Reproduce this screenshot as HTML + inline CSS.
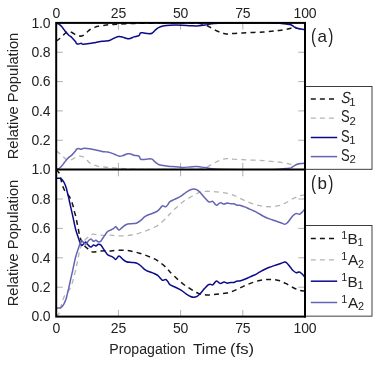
<!DOCTYPE html>
<html><head><meta charset="utf-8"><title>Relative Population</title>
<style>
html,body{margin:0;padding:0;background:#fff;}
body{width:374px;height:365px;overflow:hidden;}
svg{display:block;will-change:transform;}
text{font-family:"Liberation Sans",sans-serif;fill:#222222;}
.tk{font-size:14px;letter-spacing:-0.15px;}
.lb{font-size:14.7px;}
.pl{font-size:17px;}
.lg{font-size:15.3px;}
.sb{font-size:10.8px;}
</style></head><body>
<svg width="374" height="365" viewBox="0 0 374 365">
<rect x="0" y="0" width="374" height="365" fill="#ffffff"/>
<g stroke="#b0b0b0" stroke-width="1" fill="none">
<path d="M118.40,22.9v6.7M118.40,162.9v13.4M118.40,316.6v-6.7"/>
<path d="M180.60,22.9v6.7M180.60,162.9v13.4M180.60,316.6v-6.7"/>
<path d="M242.80,22.9v6.7M242.80,162.9v13.4M242.80,316.6v-6.7"/>
<path d="M56.2,140.26h6.7M305.0,140.26h-6.7"/>
<path d="M56.2,110.92h6.7M305.0,110.92h-6.7"/>
<path d="M56.2,81.58h6.7M305.0,81.58h-6.7"/>
<path d="M56.2,52.24h6.7M305.0,52.24h-6.7"/>
<path d="M56.2,287.20h6.7M305.0,287.20h-6.7"/>
<path d="M56.2,257.80h6.7M305.0,257.80h-6.7"/>
<path d="M56.2,228.40h6.7M305.0,228.40h-6.7"/>
<path d="M56.2,199.00h6.7M305.0,199.00h-6.7"/>
</g>
<defs><clipPath id="ca"><rect x="56.2" y="22.9" width="248.8" height="146.7"/></clipPath><clipPath id="cb"><rect x="56.2" y="169.6" width="248.8" height="147.00000000000003"/></clipPath></defs>
<g fill="none" stroke-linejoin="round" clip-path="url(#ca)">
<path d="M56.0,40.8C56.2,40.8 56.5,41.0 57.2,40.5C57.9,40.0 59.4,38.9 60.4,38.0C61.4,37.1 62.6,35.9 63.5,35.0C64.4,34.1 65.2,33.2 66.0,32.6C66.8,32.0 67.5,31.5 68.5,31.5C69.5,31.5 70.8,31.9 72.0,32.5C73.2,33.1 74.7,34.4 76.0,35.0C77.3,35.6 78.5,36.0 79.7,36.1C80.9,36.2 82.0,36.0 83.0,35.5C84.0,35.0 85.1,34.0 86.0,33.2C86.9,32.4 87.7,31.5 88.5,30.8C89.3,30.1 90.1,29.3 91.0,28.8C91.9,28.3 92.9,28.0 94.1,27.6C95.3,27.2 96.4,26.6 98.0,26.3C99.6,25.9 102.0,25.6 103.7,25.4C105.5,25.2 106.8,25.0 108.5,24.8C110.2,24.7 112.1,24.5 114.0,24.4C115.9,24.3 117.3,24.1 120.0,24.0C122.7,23.9 126.7,23.7 130.0,23.6C133.3,23.5 135.0,23.4 140.0,23.3C145.0,23.2 156.7,23.1 160.0,23.1" stroke="#141414" stroke-width="1.5" stroke-dasharray="5 4.1"/>
<path d="M160.0,23.1C165.0,23.1 183.7,23.1 190.0,23.1C196.3,23.1 195.8,23.1 198.0,23.3C200.2,23.5 201.4,23.9 203.0,24.3C204.6,24.8 206.4,25.4 207.7,26.0C209.0,26.6 209.9,27.2 211.0,27.8C212.1,28.4 213.0,28.9 214.1,29.5C215.2,30.1 216.4,30.7 217.5,31.2C218.6,31.7 219.6,32.0 220.5,32.4C221.4,32.8 222.1,33.0 223.0,33.3C223.9,33.5 225.0,33.8 226.0,33.9C227.0,34.0 227.8,33.9 229.0,33.8C230.2,33.7 230.9,33.6 233.2,33.5C235.5,33.4 239.4,33.1 242.9,32.9C246.4,32.7 250.6,32.5 254.1,32.4C257.6,32.2 260.8,32.2 263.7,32.0C266.6,31.8 269.2,31.4 271.6,31.2C274.0,31.0 276.1,30.8 278.0,30.6C279.9,30.4 281.2,30.3 282.9,30.0C284.6,29.7 286.5,29.3 288.0,29.0C289.5,28.7 290.5,28.2 291.7,28.0C292.9,27.8 293.9,27.7 295.0,27.8C296.1,27.9 296.8,28.3 298.0,28.5C299.2,28.7 300.8,29.0 302.0,29.2C303.2,29.4 304.5,29.5 305.0,29.6" stroke="#141414" stroke-width="1.5" stroke-dasharray="5 4.1" stroke-dashoffset="-1.6"/>
<path d="M56.0,151.3C56.2,151.3 56.5,151.1 57.2,151.6C57.9,152.1 59.4,153.2 60.4,154.1C61.4,155.0 62.6,156.2 63.5,157.0C64.4,157.9 65.2,158.9 66.0,159.4C66.8,160.0 67.5,160.5 68.5,160.5C69.5,160.5 70.8,160.1 72.0,159.5C73.2,159.0 74.7,157.7 76.0,157.1C77.3,156.5 78.5,156.2 79.7,156.1C80.9,156.0 82.0,156.2 83.0,156.8C84.0,157.3 85.1,158.3 86.0,159.2C86.9,160.0 87.7,161.0 88.5,161.8C89.3,162.6 90.1,163.3 91.0,163.8C91.9,164.3 92.9,164.6 94.1,165.0C95.3,165.4 96.4,165.9 98.0,166.3C99.6,166.6 102.0,166.8 103.7,167.0C105.5,167.2 106.8,167.3 108.5,167.5C110.2,167.6 112.1,167.7 114.0,167.9C115.9,168.1 117.3,168.2 120.0,168.4C122.7,168.6 126.7,168.8 130.0,169.0C133.3,169.2 135.0,169.2 140.0,169.3C145.0,169.4 156.7,169.5 160.0,169.5" stroke="#b4b4b4" stroke-width="1.3" stroke-dasharray="5 4.1"/>
<path d="M160.0,169.5C165.0,169.5 183.7,169.5 190.0,169.5C196.3,169.5 195.8,169.5 198.0,169.3C200.2,169.1 201.4,168.7 203.0,168.3C204.6,167.8 206.4,167.2 207.7,166.6C209.0,166.0 209.9,165.4 211.0,164.8C212.1,164.2 213.0,163.7 214.1,163.1C215.2,162.5 216.4,161.9 217.5,161.4C218.6,160.9 219.6,160.5 220.5,160.2C221.4,159.8 222.1,159.6 223.0,159.3C223.9,159.1 225.0,158.8 226.0,158.7C227.0,158.6 227.8,158.7 229.0,158.8C230.2,158.9 230.9,158.9 233.2,159.1C235.5,159.2 239.4,159.5 242.9,159.7C246.4,159.9 250.6,160.0 254.1,160.2C257.6,160.3 260.8,160.4 263.7,160.6C266.6,160.8 269.2,161.2 271.6,161.4C274.0,161.6 276.1,161.8 278.0,162.0C279.9,162.2 281.2,162.3 282.9,162.6C284.6,162.9 286.5,163.3 288.0,163.6C289.5,163.9 290.5,164.4 291.7,164.6C292.9,164.8 293.9,164.9 295.0,164.8C296.1,164.7 296.8,164.3 298.0,164.1C299.2,163.9 300.8,163.6 302.0,163.4C303.2,163.2 304.5,163.1 305.0,163.0" stroke="#b4b4b4" stroke-width="1.3" stroke-dasharray="5 4.1" stroke-dashoffset="-1.6"/>
<path d="M56.0,23.0C56.1,23.1 56.3,23.0 56.9,23.3C57.5,23.6 58.7,23.9 59.6,24.6C60.5,25.3 61.6,26.4 62.4,27.4C63.2,28.3 63.9,29.5 64.5,30.3C65.1,31.1 65.3,31.4 66.0,32.2C66.7,33.0 67.8,34.3 68.8,35.2C69.8,36.1 70.9,36.6 72.0,37.7C73.1,38.8 74.9,40.9 75.6,41.8C76.3,42.7 75.8,42.9 76.3,43.3C76.8,43.7 77.9,44.0 78.7,44.0C79.5,44.0 80.4,43.3 81.2,43.3C81.9,43.3 81.7,44.1 83.0,44.2C84.3,44.3 87.1,43.9 89.2,43.6C91.3,43.3 93.6,42.8 95.7,42.4C97.8,42.0 100.5,41.4 102.1,41.2C103.7,41.0 103.9,41.3 105.3,41.1C106.7,40.9 108.7,40.7 110.2,40.2C111.7,39.7 113.1,38.6 114.5,38.0C115.9,37.4 117.4,36.6 118.8,36.5C120.2,36.4 121.5,36.8 122.8,37.1C124.1,37.5 125.6,38.3 126.8,38.5C128.0,38.7 128.8,38.8 130.0,38.5C131.2,38.2 132.5,37.4 134.0,36.9C135.5,36.4 137.8,36.3 138.9,35.6C140.0,34.9 139.7,33.4 140.5,32.9C141.3,32.4 142.5,32.8 143.7,32.9C144.9,33.0 146.3,33.5 147.7,33.6C149.1,33.7 150.8,33.7 152.0,33.2C153.2,32.7 153.9,31.4 154.9,30.5C155.9,29.6 156.8,28.6 158.1,27.9C159.4,27.1 160.9,26.4 162.9,26.0C164.9,25.6 166.8,25.3 170.0,25.2C173.2,25.1 178.7,25.1 182.0,25.2C185.3,25.3 187.6,25.6 190.0,25.7C192.4,25.8 194.0,26.1 196.5,26.0C199.0,25.9 202.1,25.4 205.0,25.0C207.9,24.6 210.7,23.8 214.0,23.5C217.3,23.2 219.0,23.1 225.0,23.0C231.0,22.9 242.2,22.9 250.0,22.9C257.8,22.9 266.8,22.8 272.0,22.9C277.2,23.0 279.0,23.3 281.3,23.5C283.6,23.7 284.4,23.8 286.0,24.0C287.6,24.2 289.5,24.2 290.9,24.7C292.2,25.2 293.0,26.2 294.1,26.8C295.2,27.4 296.0,28.0 297.3,28.4C298.6,28.8 300.8,29.0 302.1,29.2C303.4,29.4 304.5,29.5 305.0,29.6" stroke="#0b0b8a" stroke-width="1.5"/>
<path d="M56.0,169.6C56.1,169.5 56.3,169.6 56.9,169.3C57.5,169.0 58.7,168.7 59.6,168.0C60.5,167.3 61.6,166.1 62.4,165.2C63.2,164.2 63.9,163.1 64.5,162.3C65.1,161.5 65.3,161.2 66.0,160.4C66.7,159.6 67.8,158.3 68.8,157.4C69.8,156.5 70.9,156.0 72.0,154.9C73.1,153.8 74.9,151.7 75.6,150.8C76.3,149.9 75.8,149.7 76.3,149.3C76.8,148.9 77.9,148.6 78.7,148.6C79.5,148.6 80.4,149.3 81.2,149.3C81.9,149.3 81.7,148.5 83.0,148.4C84.4,148.3 87.2,148.5 89.3,148.8C91.4,149.1 93.6,149.7 95.7,150.1C97.8,150.6 100.5,151.2 102.1,151.5C103.7,151.8 103.9,151.6 105.3,151.8C106.7,151.9 108.7,152.2 110.2,152.6C111.7,153.0 113.1,153.7 114.5,154.3C115.9,154.9 117.4,155.9 118.8,156.1C120.2,156.3 121.5,156.0 122.8,155.6C124.1,155.3 125.6,154.2 126.8,153.9C128.0,153.6 128.8,153.5 130.0,153.8C131.2,154.0 132.5,154.8 134.0,155.2C135.5,155.6 137.8,155.6 138.9,156.2C140.0,156.9 139.7,158.6 140.5,159.1C141.3,159.7 142.5,159.5 143.7,159.4C144.9,159.4 146.3,159.0 147.7,159.0C149.1,158.9 150.8,158.6 152.0,159.1C153.2,159.6 153.9,160.9 154.9,161.7C155.9,162.6 156.8,163.5 158.1,164.2C159.4,164.8 160.9,165.2 162.9,165.6C164.9,166.0 166.8,166.1 170.0,166.4C173.2,166.7 178.7,167.3 182.0,167.4C185.3,167.5 187.6,167.0 190.0,166.9C192.4,166.8 194.0,166.5 196.5,166.6C199.0,166.7 202.1,167.2 205.0,167.6C207.9,168.0 210.7,168.8 214.0,169.1C217.3,169.4 219.0,169.5 225.0,169.6C231.0,169.7 242.2,169.7 250.0,169.7C257.8,169.7 266.8,169.8 272.0,169.7C277.2,169.6 279.0,169.3 281.3,169.1C283.6,168.9 284.4,168.8 286.0,168.6C287.6,168.4 289.5,168.4 290.9,167.9C292.2,167.4 293.0,166.4 294.1,165.8C295.2,165.2 296.0,164.6 297.3,164.2C298.6,163.8 300.8,163.6 302.1,163.4C303.4,163.2 304.5,163.1 305.0,163.0" stroke="#6464b4" stroke-width="1.5"/>
</g>
<g fill="none" stroke-linejoin="round" clip-path="url(#cb)">
<path d="M56.2,169.6C56.7,170.2 58.7,172.2 59.4,173.4C60.1,174.6 60.1,175.8 60.4,177.0C60.7,178.2 60.9,179.2 61.2,180.5C61.5,181.8 61.9,183.3 62.3,184.5C62.7,185.7 62.9,186.7 63.4,187.8C63.9,188.9 64.4,190.2 65.0,191.2C65.6,192.2 66.7,193.4 67.0,193.8" stroke="#141414" stroke-width="1.5" stroke-dasharray="5 4.1"/><path d="M67.0,193.8C67.3,194.2 68.4,195.2 69.0,196.0C69.6,196.8 70.0,197.7 70.5,198.8C71.0,200.0 71.6,201.5 72.1,202.9C72.6,204.3 73.0,205.5 73.4,207.0C73.8,208.5 74.1,210.4 74.5,211.9C74.9,213.4 75.3,214.5 75.7,216.0C76.1,217.5 76.4,219.5 76.7,221.0C77.0,222.5 77.2,223.5 77.5,225.1C77.8,226.7 78.3,228.8 78.6,230.5C78.9,232.2 79.1,233.4 79.5,235.0C79.9,236.6 80.2,238.2 80.9,239.8C81.6,241.4 82.5,243.1 83.6,244.6C84.7,246.1 86.2,247.5 87.7,248.7C89.2,249.9 90.8,251.6 92.6,252.0C94.4,252.4 96.3,251.4 98.4,251.2C100.5,251.0 103.1,250.8 105.0,250.8C106.9,250.8 108.1,251.1 110.0,251.0C111.9,250.9 114.1,250.5 116.6,250.4C119.1,250.3 122.3,250.3 124.8,250.4C127.3,250.5 128.9,250.7 131.4,251.2C133.9,251.7 136.9,252.4 139.6,253.2C142.3,254.0 145.1,255.0 147.8,256.1C150.5,257.2 153.5,258.3 156.0,259.7C158.5,261.1 160.7,262.8 162.6,264.4C164.5,265.9 166.3,267.8 167.5,269.1C168.7,270.4 168.5,270.5 170.0,272.0C171.5,273.5 174.3,276.3 176.5,278.3C178.7,280.3 180.9,282.3 183.1,284.0C185.3,285.7 187.6,287.1 189.7,288.4C191.8,289.8 193.6,291.0 195.4,291.9C197.2,292.8 198.5,293.6 200.3,294.1C202.1,294.6 204.0,294.8 206.1,294.9C208.2,295.0 210.5,294.9 212.7,294.7C214.9,294.5 217.2,294.2 219.5,293.9C221.8,293.6 224.3,293.6 226.6,293.1C228.9,292.6 231.0,291.9 233.2,291.1C235.4,290.3 237.5,289.1 239.7,288.1C241.9,287.1 244.1,285.9 246.3,285.0C248.5,284.1 250.7,283.1 252.9,282.4C255.1,281.6 257.5,281.0 259.7,280.5C261.9,280.0 264.1,279.8 266.3,279.6C268.5,279.5 270.8,279.4 273.0,279.6C275.2,279.8 277.6,280.1 279.8,280.8C282.0,281.5 284.1,282.6 286.3,283.7C288.5,284.8 290.7,286.4 292.9,287.5C295.1,288.6 297.5,289.7 299.5,290.3C301.5,290.9 304.1,291.1 305.0,291.3" stroke="#141414" stroke-width="1.5" stroke-dasharray="5 4.1" stroke-dashoffset="-0.9"/>
<path d="M56.2,316.6C56.7,316.0 58.7,314.0 59.4,312.8C60.1,311.6 60.1,310.4 60.4,309.2C60.7,308.0 60.9,307.0 61.2,305.7C61.5,304.5 61.9,302.9 62.3,301.7C62.7,300.5 62.9,299.5 63.4,298.4C63.9,297.3 64.4,296.0 65.0,295.0C65.6,294.0 66.7,292.8 67.0,292.4" stroke="#b4b4b4" stroke-width="1.3" stroke-dasharray="5 4.1"/><path d="M67.0,292.4C67.3,292.0 68.4,291.0 69.0,290.2C69.6,289.4 70.0,288.6 70.5,287.4C71.0,286.3 71.6,284.7 72.1,283.3C72.6,281.9 73.0,280.7 73.4,279.2C73.8,277.7 74.1,275.8 74.5,274.3C74.9,272.8 75.3,271.7 75.7,270.2C76.1,268.7 76.4,266.7 76.7,265.2C77.0,263.7 77.2,262.7 77.5,261.1C77.8,259.5 78.3,257.4 78.6,255.7C78.9,254.1 79.1,252.8 79.5,251.2C79.9,249.7 80.2,248.0 80.9,246.4C81.6,244.8 82.5,243.1 83.6,241.6C84.7,240.1 86.2,238.7 87.7,237.5C89.2,236.3 90.8,234.6 92.6,234.2C94.4,233.8 96.3,234.8 98.4,235.0C100.5,235.2 103.1,235.4 105.0,235.4C106.9,235.4 108.1,235.1 110.0,235.2C111.9,235.3 114.1,235.7 116.6,235.8C119.1,235.9 122.3,235.9 124.8,235.8C127.3,235.7 128.9,235.5 131.4,235.0C133.9,234.5 136.9,233.8 139.6,233.0C142.3,232.2 145.1,231.2 147.8,230.1C150.5,229.0 153.5,227.9 156.0,226.5C158.5,225.1 160.7,223.2 162.6,221.5C164.5,219.9 166.3,217.9 167.5,216.6C168.7,215.3 168.5,215.2 170.0,213.7C171.5,212.2 174.3,209.4 176.5,207.4C178.7,205.4 180.9,203.3 183.1,201.7C185.3,200.1 187.6,198.8 189.7,197.6C191.8,196.4 193.6,195.2 195.4,194.3C197.2,193.4 198.5,192.6 200.3,192.1C202.1,191.6 204.0,191.4 206.1,191.3C208.2,191.2 210.5,191.3 212.7,191.5C214.9,191.7 217.2,192.0 219.5,192.3C221.8,192.6 224.3,192.6 226.6,193.1C228.9,193.6 231.0,194.3 233.2,195.1C235.4,195.9 237.5,197.1 239.7,198.1C241.9,199.1 244.1,200.3 246.3,201.2C248.5,202.2 250.7,203.1 252.9,203.8C255.1,204.6 257.5,205.2 259.7,205.7C261.9,206.2 264.1,206.5 266.3,206.6C268.5,206.8 270.8,206.8 273.0,206.6C275.2,206.4 277.6,206.1 279.8,205.4C282.0,204.7 284.1,203.6 286.3,202.5C288.5,201.4 290.7,199.8 292.9,198.7C295.1,197.6 297.5,196.5 299.5,195.9C301.5,195.3 304.1,195.1 305.0,194.9" stroke="#b4b4b4" stroke-width="1.3" stroke-dasharray="5 4.1" stroke-dashoffset="-0.9"/>
<path d="M56.0,178.2C56.2,178.2 56.8,178.2 57.3,178.2C57.8,178.2 58.5,178.2 59.0,178.2C59.5,178.2 59.8,178.2 60.2,178.4C60.6,178.6 61.1,178.8 61.5,179.2C61.9,179.5 62.3,180.0 62.7,180.5C63.1,181.0 63.6,181.7 64.0,182.4C64.4,183.1 64.7,183.9 65.1,184.8C65.5,185.7 65.8,186.6 66.2,187.8C66.6,189.0 66.8,190.2 67.2,191.8C67.6,193.4 68.0,194.9 68.6,197.3C69.1,199.7 69.9,203.5 70.5,206.2C71.1,208.9 71.7,211.1 72.2,213.6C72.8,216.1 73.2,218.3 73.8,221.0C74.4,223.7 74.9,226.5 75.7,229.5C76.5,232.5 77.9,236.5 78.7,238.8C79.5,241.1 79.8,242.2 80.3,243.3C80.8,244.4 81.2,245.5 81.9,245.4C82.6,245.3 83.7,243.5 84.4,242.9C85.1,242.3 85.3,241.7 86.0,242.1C86.7,242.5 87.7,244.6 88.5,245.4C89.3,246.2 90.2,247.2 91.0,247.1C91.8,247.0 92.7,245.1 93.5,244.9C94.3,244.7 95.1,246.0 95.9,245.9C96.7,245.8 97.6,244.4 98.4,244.3C99.2,244.2 100.1,244.4 100.9,245.1C101.7,245.8 102.2,247.1 103.3,248.7C104.4,250.3 106.3,253.3 107.4,254.5C108.5,255.7 109.0,255.3 110.0,255.8C111.0,256.3 112.5,257.0 113.5,257.6C114.5,258.2 114.9,259.6 115.8,259.4C116.7,259.1 117.9,256.2 119.0,256.1C120.1,256.0 121.1,258.0 122.3,258.9C123.5,259.8 124.9,261.1 126.4,261.7C127.9,262.3 129.8,262.3 131.4,262.5C133.1,262.7 134.8,262.5 136.3,263.0C137.8,263.5 139.0,264.4 140.4,265.5C141.8,266.6 143.3,268.4 144.5,269.3C145.7,270.2 146.4,270.6 147.8,271.2C149.2,271.8 151.0,272.2 152.7,272.9C154.3,273.6 156.2,274.1 157.7,275.3C159.2,276.5 160.9,279.0 161.8,279.8C162.8,280.6 162.7,280.4 163.4,280.3C164.1,280.2 165.1,279.2 165.9,279.5C166.7,279.8 167.3,280.9 168.0,281.8C168.7,282.7 168.8,283.7 170.0,284.6C171.2,285.5 173.0,286.1 174.9,287.0C176.8,287.9 179.5,289.1 181.4,290.3C183.3,291.5 184.9,293.1 186.4,294.1C187.9,295.1 189.3,296.0 190.5,296.5C191.7,297.0 192.7,297.3 193.8,297.3C194.9,297.3 196.0,297.0 197.1,296.4C198.2,295.8 199.1,294.9 200.3,293.6C201.5,292.3 203.2,290.1 204.5,288.6C205.8,287.2 207.2,285.6 208.1,284.9C209.0,284.2 209.4,284.2 210.2,284.2C211.0,284.2 211.9,285.2 212.7,284.9C213.5,284.5 214.4,282.8 215.1,282.1C215.8,281.4 216.1,280.8 216.8,280.9C217.5,281.0 218.5,282.5 219.2,282.9C219.9,283.3 220.1,283.5 220.9,283.4C221.7,283.3 223.0,282.1 224.1,282.1C225.2,282.1 226.3,283.1 227.4,283.2C228.5,283.2 229.6,282.5 230.7,282.4C231.8,282.3 233.1,282.6 234.0,282.4C234.9,282.2 235.5,281.4 236.4,281.2C237.3,280.9 238.3,281.2 239.7,280.9C241.1,280.6 243.0,279.9 244.7,279.3C246.3,278.7 248.0,277.8 249.6,277.1C251.2,276.4 252.8,275.8 254.5,275.0C256.1,274.2 257.9,273.1 259.5,272.2C261.1,271.3 262.7,270.3 264.4,269.5C266.1,268.7 267.7,268.0 269.5,267.3C271.3,266.6 273.0,266.1 275.0,265.4C277.0,264.7 279.8,263.8 281.4,263.2C283.0,262.6 283.8,262.0 284.7,262.0C285.6,262.0 286.2,262.3 287.1,263.2C288.1,264.1 289.4,266.1 290.4,267.3C291.4,268.5 291.9,269.6 292.9,270.5C293.9,271.4 295.1,272.5 296.2,272.7C297.3,272.9 298.6,271.7 299.5,271.9C300.4,272.1 301.1,273.1 301.9,273.8C302.7,274.5 303.6,275.7 304.1,276.3C304.6,276.9 304.9,277.3 305.0,277.5" stroke="#0b0b8a" stroke-width="1.5"/>
<path d="M56.0,308.0C56.2,308.0 56.8,308.0 57.3,308.0C57.8,308.0 58.5,308.0 59.0,308.0C59.5,308.0 59.8,308.0 60.2,307.8C60.6,307.6 61.1,307.4 61.5,307.0C61.9,306.7 62.3,306.2 62.7,305.7C63.1,305.2 63.6,304.5 64.0,303.8C64.4,303.1 64.7,302.3 65.1,301.4C65.5,300.5 65.8,299.6 66.2,298.4C66.6,297.2 66.8,296.0 67.2,294.4C67.6,292.8 68.0,291.3 68.6,288.9C69.1,286.5 69.9,282.7 70.5,280.0C71.1,277.3 71.7,275.1 72.2,272.6C72.8,270.1 73.2,267.9 73.8,265.2C74.4,262.6 74.9,259.7 75.7,256.7C76.5,253.7 77.9,249.7 78.7,247.4C79.5,245.1 79.8,244.0 80.3,242.9C80.8,241.8 81.2,240.7 81.9,240.8C82.6,240.9 83.7,242.8 84.4,243.3C85.1,243.9 85.3,244.5 86.0,244.1C86.7,243.7 87.7,241.6 88.5,240.8C89.3,240.0 90.2,239.0 91.0,239.1C91.8,239.2 92.7,241.1 93.5,241.3C94.3,241.5 95.1,240.2 95.9,240.3C96.7,240.4 97.6,241.8 98.4,241.9C99.2,242.0 100.1,241.8 100.9,241.1C101.7,240.4 102.2,239.1 103.3,237.5C104.4,235.9 106.3,232.9 107.4,231.7C108.5,230.5 109.0,230.9 110.0,230.4C111.0,229.9 112.5,229.2 113.5,228.6C114.5,228.0 114.9,226.6 115.8,226.8C116.7,227.1 117.9,230.0 119.0,230.1C120.1,230.2 121.1,228.2 122.3,227.3C123.5,226.4 124.9,225.1 126.4,224.5C127.9,223.9 129.8,223.9 131.4,223.7C133.1,223.5 134.8,223.7 136.3,223.2C137.8,222.7 139.0,221.8 140.4,220.7C141.8,219.7 143.3,217.9 144.5,216.9C145.7,216.0 146.4,215.6 147.8,215.0C149.2,214.4 151.0,214.0 152.7,213.3C154.3,212.6 156.2,212.1 157.7,210.9C159.2,209.8 160.9,207.2 161.8,206.4C162.8,205.6 162.7,205.9 163.4,205.9C164.1,206.0 165.1,207.0 165.9,206.7C166.7,206.5 167.3,205.3 168.0,204.4C168.7,203.6 168.8,202.5 170.0,201.6C171.2,200.7 173.0,200.2 174.9,199.2C176.8,198.3 179.5,197.1 181.4,195.9C183.3,194.7 184.9,193.1 186.4,192.1C187.9,191.1 189.3,190.2 190.5,189.7C191.7,189.2 192.7,188.9 193.8,188.9C194.9,188.9 196.0,189.2 197.1,189.8C198.2,190.4 199.1,191.3 200.3,192.6C201.5,193.9 203.2,196.2 204.5,197.6C205.8,199.1 207.2,200.6 208.1,201.3C209.0,202.0 209.4,202.0 210.2,202.0C211.0,202.0 211.9,201.0 212.7,201.3C213.5,201.7 214.4,203.4 215.1,204.1C215.8,204.8 216.1,205.4 216.8,205.3C217.5,205.2 218.5,203.7 219.2,203.3C219.9,202.9 220.1,202.7 220.9,202.8C221.7,202.9 223.0,204.1 224.1,204.1C225.2,204.1 226.3,203.1 227.4,203.0C228.5,203.0 229.6,203.7 230.7,203.8C231.8,203.9 233.1,203.6 234.0,203.8C234.9,204.0 235.5,204.8 236.4,205.0C237.3,205.3 238.3,205.0 239.7,205.3C241.1,205.6 243.0,206.3 244.7,206.9C246.3,207.5 248.0,208.4 249.6,209.1C251.2,209.8 252.8,210.4 254.5,211.2C256.1,212.0 257.9,213.1 259.5,214.0C261.1,214.9 262.7,215.9 264.4,216.7C266.1,217.5 267.7,218.2 269.5,218.9C271.3,219.6 273.0,220.1 275.0,220.8C277.0,221.5 279.8,222.4 281.4,223.0C283.0,223.6 283.8,224.2 284.7,224.2C285.6,224.2 286.2,223.9 287.1,223.0C288.1,222.1 289.4,220.1 290.4,218.9C291.4,217.7 291.9,216.6 292.9,215.7C293.9,214.8 295.1,213.7 296.2,213.5C297.3,213.3 298.6,214.5 299.5,214.3C300.4,214.1 301.1,213.1 301.9,212.4C302.7,211.7 303.6,210.5 304.1,209.9C304.6,209.3 304.9,208.9 305.0,208.7" stroke="#6464b4" stroke-width="1.5"/>
</g>
<g stroke="#000" stroke-width="2" fill="none" stroke-linejoin="miter">
<rect x="56.2" y="22.9" width="248.8" height="293.70000000000005"/>
<path d="M56.2,169.6H305.0"/>
</g>
<rect x="305.5" y="86.5" width="66.5" height="82.80000000000001" fill="#fff" stroke="#2a2a2a" stroke-width="0.9"/>
<path d="M310.8,99H337.2" stroke="#141414" stroke-width="1.5" stroke-dasharray="5 4.1" fill="none"/>
<text class="lg" style="font-size:16.2px" transform="translate(340.9,103.3) scale(0.85,1) skewX(-5)" font-style="italic">S</text><text class="sb" style="font-size:11.3px" x="349.3" y="105.7">1</text>
<path d="M310.8,118.1H337.2" stroke="#b4b4b4" stroke-width="1.3" stroke-dasharray="5 4.1" fill="none"/>
<text class="lg" style="font-size:16.2px" transform="translate(341.0,122.4) scale(0.8,1)">S</text><text class="sb" style="font-size:11.3px" x="349.6" y="124.8">2</text>
<path d="M310.8,137.5H337.2" stroke="#0b0b8a" stroke-width="1.5"  fill="none"/>
<text class="lg" style="font-size:16.2px" transform="translate(341.0,141.8) scale(0.8,1)">S</text><text class="sb" style="font-size:11.3px" x="349.3" y="144.2">1</text>
<path d="M310.8,156.6H337.2" stroke="#6464b4" stroke-width="1.5"  fill="none"/>
<text class="lg" style="font-size:16.2px" transform="translate(341.0,160.9) scale(0.8,1)">S</text><text class="sb" style="font-size:11.3px" x="349.6" y="163.3">2</text>
<rect x="305.5" y="225.5" width="66.5" height="90.64999999999998" fill="#fff" stroke="#2a2a2a" stroke-width="0.9"/>
<path d="M310.8,238.6H337.2" stroke="#141414" stroke-width="1.5" stroke-dasharray="5 4.1" fill="none"/>
<text class="sb" x="341.3" y="238.6">1</text><text class="lg" x="347.6" y="244.0">B</text><text class="sb" x="357.6" y="246.2">1</text>
<path d="M310.8,259.9H337.2" stroke="#b4b4b4" stroke-width="1.3" stroke-dasharray="5 4.1" fill="none"/>
<text class="sb" x="341.3" y="259.9">1</text><text class="lg" x="347.9" y="265.3">A</text><text class="sb" x="358.0" y="267.5">2</text>
<path d="M310.8,281.2H337.2" stroke="#0b0b8a" stroke-width="1.5"  fill="none"/>
<text class="sb" x="341.3" y="281.2">1</text><text class="lg" x="347.6" y="286.6">B</text><text class="sb" x="357.6" y="288.8">1</text>
<path d="M310.8,302.5H337.2" stroke="#6464b4" stroke-width="1.5"  fill="none"/>
<text class="sb" x="341.3" y="302.5">1</text><text class="lg" x="347.9" y="307.9">A</text><text class="sb" x="358.0" y="310.1">2</text>
<path d="M305.0,21.9V317.6" stroke="#000" stroke-width="2"/>
<text class="tk" x="56.20" y="17.5" text-anchor="middle">0</text>
<text class="tk" x="56.20" y="332.65" text-anchor="middle">0</text>
<text class="tk" x="118.40" y="17.5" text-anchor="middle">25</text>
<text class="tk" x="118.40" y="332.65" text-anchor="middle">25</text>
<text class="tk" x="180.60" y="17.5" text-anchor="middle">50</text>
<text class="tk" x="180.60" y="332.65" text-anchor="middle">50</text>
<text class="tk" x="242.80" y="17.5" text-anchor="middle">75</text>
<text class="tk" x="242.80" y="332.65" text-anchor="middle">75</text>
<text class="tk" x="305.00" y="17.5" text-anchor="middle">100</text>
<text class="tk" x="305.00" y="332.65" text-anchor="middle">100</text>
<text class="tk" x="50.5" y="27.60" text-anchor="end">1.0</text>
<text class="tk" x="50.5" y="56.94" text-anchor="end">0.8</text>
<text class="tk" x="50.5" y="86.28" text-anchor="end">0.6</text>
<text class="tk" x="50.5" y="115.62" text-anchor="end">0.4</text>
<text class="tk" x="50.5" y="144.96" text-anchor="end">0.2</text>
<text class="tk" x="50.5" y="174.30" text-anchor="end">1.0</text>
<text class="tk" x="50.5" y="203.70" text-anchor="end">0.8</text>
<text class="tk" x="50.5" y="233.10" text-anchor="end">0.6</text>
<text class="tk" x="50.5" y="262.50" text-anchor="end">0.4</text>
<text class="tk" x="50.5" y="291.90" text-anchor="end">0.2</text>
<text class="tk" x="50.5" y="321.30" text-anchor="end">0.0</text>
<text class="lb" x="109.3" y="354.4" textLength="76.3" lengthAdjust="spacingAndGlyphs">Propagation</text><text class="lb" x="193.0" y="354.4" textLength="33.6" lengthAdjust="spacingAndGlyphs">Time</text><text class="lb" x="230.1" y="354.4" textLength="24.0" lengthAdjust="spacingAndGlyphs">(fs)</text>
<text class="lb" transform="translate(17.8,96) rotate(-90)" text-anchor="middle">Relative Population</text>
<text class="lb" transform="translate(17.8,243) rotate(-90)" text-anchor="middle">Relative Population</text>
<text class="pl" transform="translate(311.05,42.60) scale(0.9,1.2)">(</text><text class="pl" x="317.4" y="41.9">a</text><text class="pl" transform="translate(328.3,42.60) scale(0.9,1.2)">)</text>
<text class="pl" transform="translate(311.05,190.00) scale(0.9,1.2)">(</text><text class="pl" x="317.4" y="189.3">b</text><text class="pl" transform="translate(328.3,190.00) scale(0.9,1.2)">)</text>
</svg>
</body></html>
